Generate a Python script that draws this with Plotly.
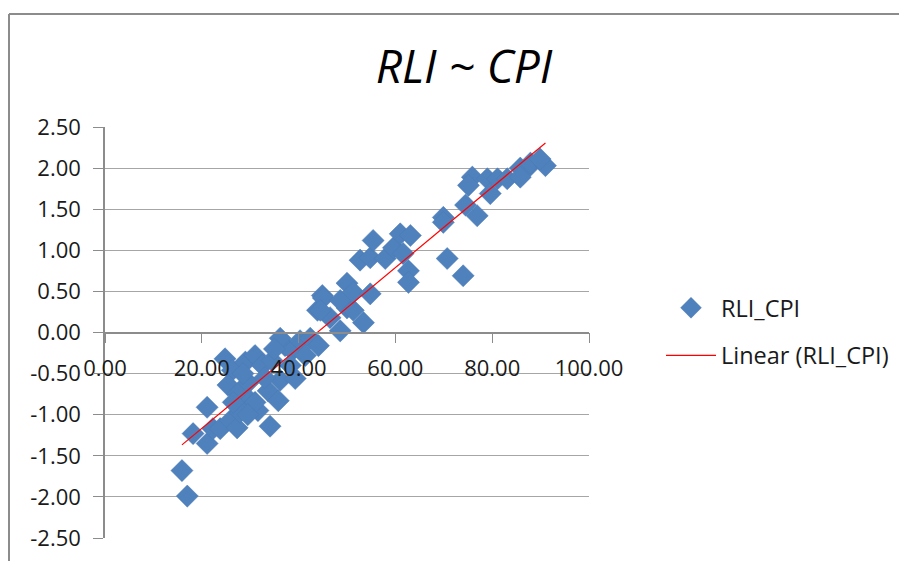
import numpy as np
import plotly.graph_objects as go

# ---- data ----
cpi = [15.9, 17.0, 18.2, 21.1, 21.1, 22.3, 23.8, 25.9, 27.3, 27.9,
       24.8, 26.3, 29.0, 31.0, 32.5, 25.4, 27.5, 29.6, 30.0, 31.6,
       33.7, 35.8, 36.2, 34.5, 37.2, 36.2, 38.7, 39.3, 38.3, 40.3,
       41.4, 42.4, 44.1, 34.1, 28.5, 33.0, 35.0, 31.0, 29.5, 26.5,
       43.9, 46.5, 50.0, 48.6, 44.9, 45.1, 44.5, 48.6, 51.3, 53.4,
       50.0, 51.3, 54.8, 52.7, 54.8, 57.9, 59.6, 61.6, 62.7, 62.7,
       55.4, 61.0, 63.1,
       69.9, 69.9, 70.7, 74.0, 75.9, 75.1, 74.5, 76.9, 79.0, 79.6,
       81.1, 83.1, 85.8, 87.3, 87.9, 91.0, 89.9, 85.8]
rli = [-1.68, -1.99, -1.23, -0.91, -1.35, -1.17, -1.17, -1.07, -1.16, -0.97,
       -0.32, -0.46, -0.36, -0.28, -0.40, -0.64, -0.74, -0.61, -0.83, -0.95,
       -0.71, -0.83, -0.58, -0.34, -0.16, -0.07, -0.22, -0.56, -0.40, -0.10,
       -0.28, -0.07, -0.16, -1.14, -0.50, -0.55, -0.20, -0.85, -1.00, -0.85,
       0.27, 0.18, 0.30, 0.02, 0.45, 0.42, 0.27, 0.39, 0.27, 0.12,
       0.60, 0.49, 0.47, 0.88, 0.91, 0.90, 1.03, 0.96, 0.75, 0.61,
       1.12, 1.20, 1.18,
       1.40, 1.34, 0.90, 0.69, 1.89, 1.79, 1.55, 1.42, 1.87, 1.69,
       1.87, 1.87, 2.00, 2.00, 2.06, 2.03, 2.11, 1.89]

x_ticks = [0, 20, 40, 60, 80, 100]
x_tick_labels = ["0.00", "20.00", "40.00", "60.00", "80.00", "100.00"]
y_ticks = [2.5, 2.0, 1.5, 1.0, 0.5, 0.0, -0.5, -1.0, -1.5, -2.0, -2.5]
y_tick_labels = ["2.50", "2.00", "1.50", "1.00", "0.50", "0.00", "-0.50",
                 "-1.00", "-1.50", "-2.00", "-2.50"]

title_text = "RLI ~ CPI"
series_name = "RLI_CPI"
trend_name = "Linear (RLI_CPI)"

# linear trend line (least squares)
slope, intercept = np.polyfit(cpi, rli, 1)
tx = [min(cpi), max(cpi)]
ty = [slope * v + intercept for v in tx]

FONT = "Open Sans"
W, H = 907, 561
OFF = 8  # page body margin in the browser
# target pixel positions (in the screenshot) of the plot area
PL, PR, PT, PB = 105 - OFF, 589 - OFF, 127 - OFF, 538 - OFF
L, R, T, B = PL, W - PR, PT, H - PB
pw = PR - PL
ph = PB - PT


def px_x(p):
    return (p - OFF - PL) / pw


def px_y(p):
    return (PB - (p - OFF)) / ph


fig = go.Figure()
fig.add_trace(go.Scatter(
    x=cpi, y=rli, mode="markers", name=series_name,
    marker=dict(symbol="diamond", size=17, color="#4F81BD",
                line=dict(width=0.5, color="#4A7AB5")),
    legendgroup="a",
))
fig.add_trace(go.Scatter(
    x=tx, y=ty, mode="lines", name=trend_name,
    line=dict(color="#FF0000", width=1.2),
    legendgroup="b",
))

# outer chart frame (left and top edges visible)
fx = px_x(9)
fy = px_y(14)
fig.add_shape(type="line", xref="paper", yref="paper", x0=fx, x1=fx, y0=fy, y1=-1,
              line=dict(color="#8C8C8C", width=2))
fig.add_shape(type="line", xref="paper", yref="paper", x0=fx, x1=3, y0=fy, y1=fy,
              line=dict(color="#8C8C8C", width=2))

fig.update_layout(
    width=W, height=H, autosize=False,
    margin=dict(l=L, r=R, t=T, b=B, pad=0),
    paper_bgcolor="white", plot_bgcolor="white",
    font=dict(family=FONT, size=22, color="#1a1a1a"),
    title=dict(text=title_text, x=(464 - OFF) / W, xanchor="center",
               y=1 - (67 - OFF) / H, yanchor="middle",
               font=dict(family=FONT, size=46, style="italic", color="#000000")),
    showlegend=True,
    legend=dict(x=px_x(661), y=px_y(286), xanchor="left", yanchor="top",
                traceorder="grouped", tracegroupgap=14,
                font=dict(family=FONT, size=23.5, color="#1a1a1a"),
                bgcolor="rgba(0,0,0,0)", itemwidth=50),
    xaxis=dict(range=[0, 100], tickvals=x_ticks, ticktext=x_tick_labels,
               showgrid=False, zeroline=False, showline=True, linecolor="#8C8C8C",
               linewidth=1.5, ticks="outside", ticklen=10, tickcolor="#8C8C8C",
               anchor="free", position=0.5, ticklabelstandoff=6),
    yaxis=dict(range=[-2.5, 2.5], tickvals=y_ticks, ticktext=y_tick_labels,
               showgrid=True, gridcolor="#A6A6A6", gridwidth=1.2,
               zeroline=False, showline=True, linecolor="#8C8C8C", linewidth=1.5,
               ticks="outside", ticklen=10, tickcolor="#8C8C8C",
               ticklabelstandoff=8),
)

fig.write_html("out.html")
